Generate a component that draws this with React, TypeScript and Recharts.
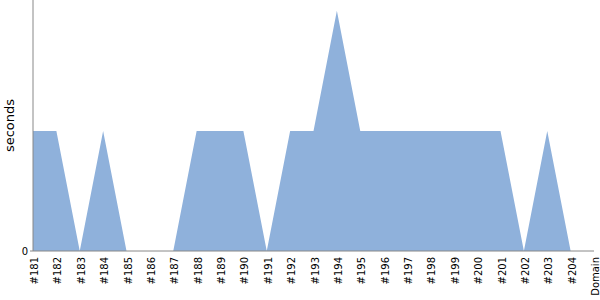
import { Area, AreaChart, XAxis, YAxis } from "recharts";

const builds = [
  "#181", "#182", "#183", "#184", "#185", "#186", "#187", "#188", "#189", "#190",
  "#191", "#192", "#193", "#194", "#195", "#196", "#197", "#198", "#199", "#200",
  "#201", "#202", "#203", "#204", "Domain",
];
const seconds = [
  1, 1, 0, 1, 0, 0, 0, 1, 1, 1,
  0, 1, 1, 2, 1, 1, 1, 1, 1, 1,
  1, 0, 1, 0, 0,
];
const yTicks = [0];

const data = builds.map((b, i) => ({ build: b, seconds: seconds[i] }));

const font = "DejaVu Sans, sans-serif";

/** Build duration area chart, rotated build labels. */
export default function App() {
  return (
    <div style={{ position: "absolute", left: 0, top: 0, width: 600, height: 300, background: "#fff" }}>
      <AreaChart width={600} height={300} data={data} margin={{ top: 0, right: 6, bottom: 0, left: 0 }}>
        <XAxis
          dataKey="build"
          interval={0}
          height={49}
          angle={-90}
          textAnchor="end"
          tickLine={false}
          axisLine={{ stroke: "#888" }}
          tick={{ fill: "#000", fontSize: 10, fontFamily: font, dy: -2, dx: -2 }}
        />
        <YAxis
          width={33}
          domain={[0, 2.09]}
          ticks={yTicks}
          tickSize={3}
          axisLine={{ stroke: "#888" }}
          tickLine={{ stroke: "#888" }}
          tick={{ fill: "#000", fontSize: 10, fontFamily: font }}
          label={{ value: "seconds", angle: -90, position: "insideLeft", dx: 4, style: { fill: "#000", fontSize: 13, fontFamily: font, textAnchor: "middle" } }}
        />
        <Area
          type="linear"
          dataKey="seconds"
          stroke="none"
          fill="#8FB1DB"
          fillOpacity={1}
          isAnimationActive={false}
        />
      </AreaChart>
    </div>
  );
}
